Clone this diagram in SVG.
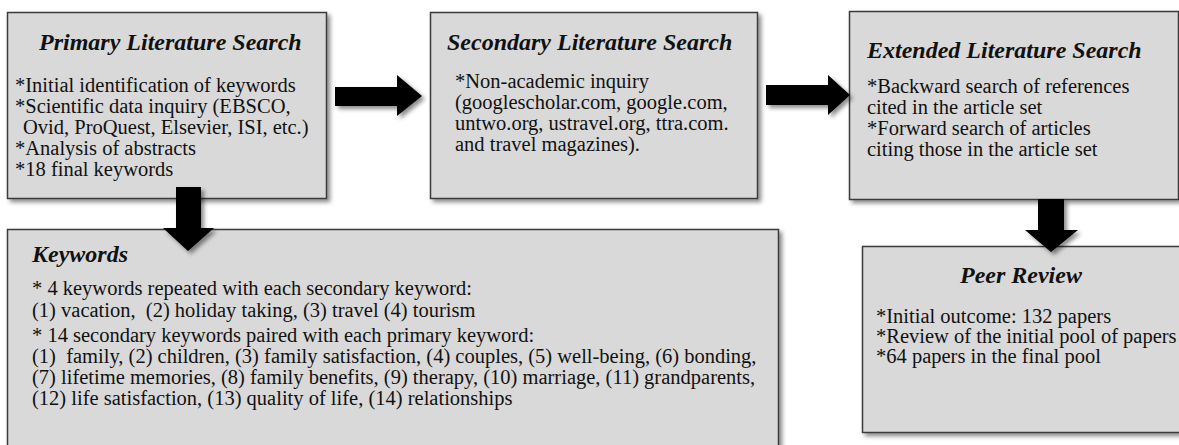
<svg xmlns="http://www.w3.org/2000/svg" width="1179" height="445" viewBox="0 0 1179 445">
  <defs>
    <filter id="shadow" x="-10%" y="-10%" width="130%" height="130%">
      <feDropShadow dx="3" dy="3" stdDeviation="2.2" flood-color="#000" flood-opacity="0.45"/>
    </filter>
  </defs>
  <style>
    .box { fill: #d9d9d9; stroke: #3a3a3a; stroke-width: 1.5; filter: url(#shadow); }
    .title { font-family: "Liberation Serif", "Times New Roman", serif; font-size: 24px; font-weight: bold; font-style: italic; fill: #111; }
    .body { font-family: "Liberation Serif", "Times New Roman", serif; font-size: 20.5px; fill: #111; }
    .arrow { fill: #000; filter: url(#shadow); }
  </style>
  <rect width="1179" height="445" fill="#fff"/>

  <!-- Primary literature search -->
  <g id="primary">
    <rect class="box" x="7.5" y="12.5" width="319" height="186"/>
    <text class="title" x="39" y="50">Primary Literature Search</text>
    <text class="body" x="15" y="92">*Initial identification of keywords</text>
    <text class="body" x="15" y="113">*Scientific data inquiry (EBSCO,</text>
    <text class="body" x="23" y="134">Ovid, ProQuest, Elsevier, ISI, etc.)</text>
    <text class="body" x="15" y="155">*Analysis of abstracts</text>
    <text class="body" x="15" y="176">*18 final keywords</text>
  </g>

  <!-- Secondary literature search -->
  <g id="secondary">
    <rect class="box" x="430.5" y="12.5" width="327" height="186"/>
    <text class="title" x="447" y="50">Secondary Literature Search</text>
    <text class="body" x="455" y="88">*Non-academic inquiry</text>
    <text class="body" x="455" y="109">(googlescholar.com, google.com,</text>
    <text class="body" x="455" y="130">untwo.org, ustravel.org, ttra.com.</text>
    <text class="body" x="455" y="151">and travel magazines).</text>
  </g>

  <!-- Extended literature search -->
  <g id="extended">
    <rect class="box" x="849.5" y="11.5" width="329" height="188"/>
    <text class="title" x="867" y="58">Extended Literature Search</text>
    <text class="body" x="867" y="93">*Backward search of references</text>
    <text class="body" x="867" y="114">cited in the article set</text>
    <text class="body" x="867" y="135">*Forward search of articles</text>
    <text class="body" x="867" y="156">citing those in the article set</text>
  </g>

  <!-- Keywords -->
  <g id="keywords">
    <rect class="box" x="7.5" y="229.5" width="771" height="240"/>
    <text class="title" x="32" y="262">Keywords</text>
    <text class="body" x="32" y="295">* 4 keywords repeated with each secondary keyword:</text>
    <text class="body" x="32" y="317" xml:space="preserve">(1) vacation,  (2) holiday taking, (3) travel (4) tourism</text>
    <text class="body" x="32" y="342">* 14 secondary keywords paired with each primary keyword:</text>
    <text class="body" x="32" y="363" xml:space="preserve">(1)  family, (2) children, (3) family satisfaction, (4) couples, (5) well-being, (6) bonding,</text>
    <text class="body" x="32" y="384">(7) lifetime memories, (8) family benefits, (9) therapy, (10) marriage, (11) grandparents,</text>
    <text class="body" x="32" y="405">(12) life satisfaction, (13) quality of life, (14) relationships</text>
  </g>

  <!-- Peer review -->
  <g id="peer-review">
    <rect class="box" x="862.5" y="246.5" width="320" height="186"/>
    <text class="title" x="960" y="283">Peer Review</text>
    <text class="body" x="876" y="323">*Initial outcome: 132 papers</text>
    <text class="body" x="876" y="343">*Review of the initial pool of papers</text>
    <text class="body" x="876" y="363">*64 papers in the final pool</text>
  </g>

  <!-- Block arrows between stages -->
  <g id="connectors">
    <polygon class="arrow" points="335,87 397,87 397,75 422,96 397,116 397,106 335,106"/>
    <polygon class="arrow" points="766,85 828,85 828,75 850,95 828,115 828,105 766,105"/>
    <polygon class="arrow" points="176,187 201,187 201,228 214,228 188,251 163,228 176,228"/>
    <polygon class="arrow" points="1038,199 1064,199 1064,230 1078,230 1051,252 1025,230 1038,230"/>
  </g>
</svg>
